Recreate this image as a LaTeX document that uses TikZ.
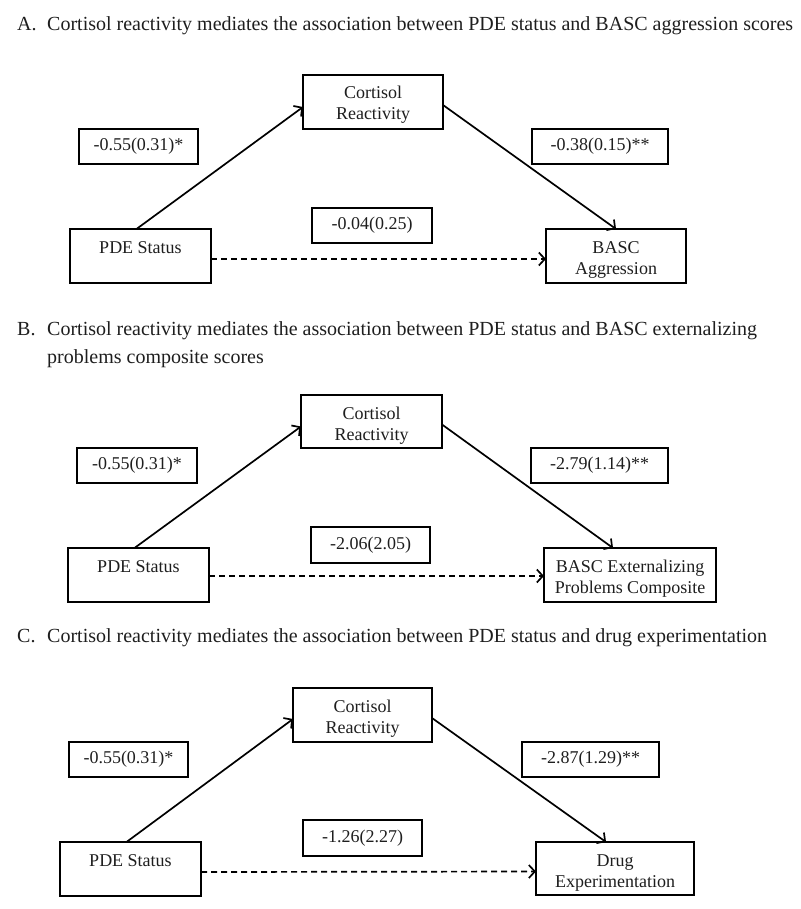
\documentclass[tikz,border=0pt]{standalone}
\usepackage{fontspec}
\setmainfont{Liberation Serif}
\usetikzlibrary{arrows.meta}
\definecolor{txt}{RGB}{30,30,30}
\newcommand{\bxt}[4]{\parbox[t][#2][t]{#1}{\centering\rule{0pt}{#3}#4}}
\begin{document}
\begin{tikzpicture}[x=1pt,y=-1pt,
  font=\fontsize{18}{21}\selectfont,
  every node/.style={text=txt},
  bx/.style={draw=black, line width=1.5pt, inner sep=0pt, outer sep=0pt, anchor=north west},
  lab/.style={draw=black, line width=1.5pt, inner sep=0pt, outer sep=0pt, anchor=north west},
  ttl/.style={anchor=base west, inner sep=0pt, font=\fontsize{20}{28}\selectfont},
  arr/.style={line width=1.7pt, -{Straight Barb[length=6pt,width=13pt]}},
  dsh/.style={arr, dash pattern=on 6pt off 4pt}]
\useasboundingbox (0,0) rectangle (800,909);

% ---------- Panel A ----------
\node[ttl] (tA) at (17,31) {A.};
\node[ttl] (tAt) at (47,31) {Cortisol reactivity mediates the association between PDE status and BASC aggression scores};

\node[bx] (cortA) at (303,75) {\bxt{140pt}{54pt}{24pt}{Cortisol\\Reactivity}};
\node[bx] (pdeA) at (70,229) {\bxt{141pt}{54pt}{24pt}{PDE Status}};
\node[bx] (bascA) at (546,229) {\bxt{140pt}{54pt}{24pt}{BASC\\Aggression}};
\node[lab, minimum width=119pt, minimum height=35pt] (l1A) at (79,129) {-0.55(0.31)*};
\node[lab, minimum width=136pt, minimum height=35pt] (l2A) at (532,129) {-0.38(0.15)**};
\node[lab, minimum width=120pt, minimum height=35pt] (l3A) at (312,208) {-0.04(0.25)};

\draw[arr] ([xshift=-4pt]pdeA.north) -- ([yshift=-5pt]cortA.west);
\draw[arr] ([yshift=-3pt]cortA.east) -- (bascA.north);
\draw[dsh] ([yshift=-3pt]pdeA.east) -- ([yshift=-3pt]bascA.west);

% ---------- Panel B ----------
\node[ttl] (tB) at (17,335) {B.};
\node[ttl] (tBt) at (47,335) {Cortisol reactivity mediates the association between PDE status and BASC externalizing};
\node[ttl] (tBt2) at (47,363) {problems composite scores};

\node[bx] (cortB) at (301,395) {\bxt{141pt}{53pt}{24pt}{Cortisol\\Reactivity}};
\node[bx] (pdeB) at (68,548) {\bxt{141pt}{54pt}{24pt}{PDE Status}};
\node[bx] (bascB) at (544,548) {\bxt{172pt}{54pt}{24pt}{BASC Externalizing\\Problems Composite}};
\node[lab, minimum width=120pt, minimum height=35pt] (l1B) at (77,448) {-0.55(0.31)*};
\node[lab, minimum width=137pt, minimum height=35pt] (l2B) at (531,448) {-2.79(1.14)**};
\node[lab, minimum width=119pt, minimum height=36pt] (l3B) at (311,527) {-2.06(2.05)};

\draw[arr] ([xshift=-4pt]pdeB.north) -- ([yshift=-5pt]cortB.west);
\draw[arr] ([yshift=-3pt]cortB.east) -- ([xshift=-17pt]bascB.north);
\draw[dsh] ([yshift=-1pt]pdeB.east) -- ([yshift=-1pt]bascB.west);

% ---------- Panel C ----------
\node[ttl] (tC) at (17,642) {C.};
\node[ttl] (tCt) at (47,642) {Cortisol reactivity mediates the association between PDE status and drug experimentation};

\node[bx] (cortC) at (293,688) {\bxt{139pt}{54pt}{24pt}{Cortisol\\Reactivity}};
\node[bx] (pdeC) at (60,842) {\bxt{141pt}{54pt}{24pt}{PDE Status}};
\node[bx] (drugC) at (536,842) {\bxt{158pt}{53pt}{24pt}{Drug\\Experimentation}};
\node[lab, minimum width=119pt, minimum height=35pt] (l1C) at (69,742) {-0.55(0.31)*};
\node[lab, minimum width=137pt, minimum height=35pt] (l2C) at (522,742) {-2.87(1.29)**};
\node[lab, minimum width=119pt, minimum height=36pt] (l3C) at (303,820) {-1.26(2.27)};

\draw[arr] ([xshift=-4pt]pdeC.north) -- ([yshift=-4pt]cortC.west);
\draw[arr] ([yshift=-3pt]cortC.east) -- ([xshift=-9pt]drugC.north);
\draw[dsh] ([yshift=-3pt]pdeC.east) -- ([yshift=-3pt]drugC.west);
\end{tikzpicture}
\end{document}
